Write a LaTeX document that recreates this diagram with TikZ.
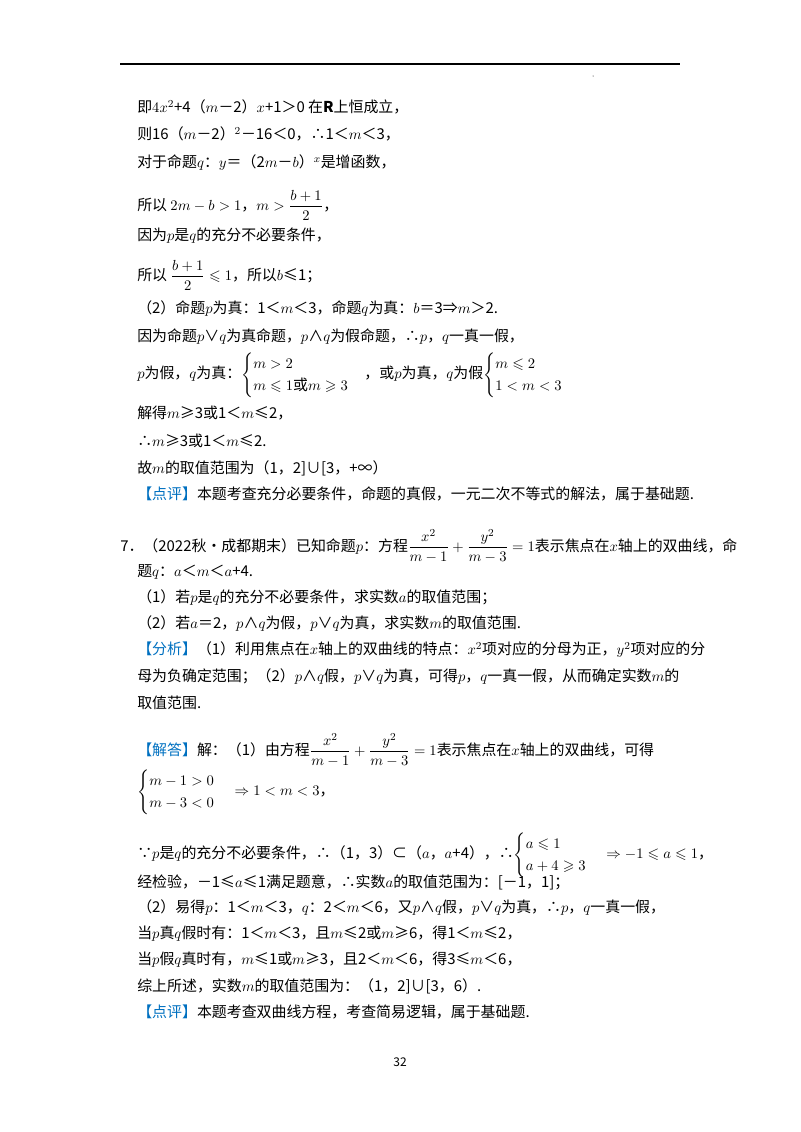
\documentclass[tikz,border=0pt]{standalone}
\usepackage{amsmath,amssymb}
\usepackage{fontspec}
\setmainfont{Noto Sans CJK SC}
\definecolor{tagblue}{RGB}{0,112,192}
\newcommand{\tg}[1]{\textcolor{tagblue}{【#1】}}
\begin{document}
\begin{tikzpicture}[x=0.75pt,y=-0.75pt,
  ln/.style={anchor=west,inner sep=0pt,font=\fontsize{11.2}{14}\selectfont}]
\useasboundingbox (0,0) rectangle (800,1132);
\draw[line width=0.8pt] (120,64) -- (680,64);
\fill (593,76) circle (0.5);
\node[ln] (l1) at (137,107) {即$4x^2$+4（$m$－2）$x$+1＞0 在\textbf{R}上恒成立，};
\node[ln] (l2) at (137,134) {则16（$m$－2）$^2$－16＜0，∴1＜$m$＜3，};
\node[ln] (l3) at (137,163) {对于命题$q$：$y$＝（2$m$－$b$）$^x$是增函数，};
\node[ln] (l4) at (137,205) {所以 $2m-b>1$，$m>\dfrac{b+1}{2}$，};
\node[ln] (l5) at (137,236) {因为$p$是$q$的充分不必要条件，};
\node[ln] (l6) at (137,275) {所以 $\dfrac{b+1}{2}\leqslant 1$，所以$b$≤1；};
\node[ln] (l7) at (137,309) {（2）命题$p$为真：1＜$m$＜3，命题$q$为真：$b$＝3⇒$m$＞2.};
\node[ln] (l8) at (137,337) {因为命题$p$∨$q$为真命题，$p$∧$q$为假命题，∴$p$，$q$一真一假，};
\node[ln] (l9) at (137,375) {$p$为假，$q$为真：$\begin{cases} m>2\\ m\leqslant 1\text{或}m\geqslant 3\end{cases}$，或$p$为真，$q$为假$\begin{cases} m\leqslant 2\\ 1<m<3\end{cases}$};
\node[ln] (l10) at (137,413) {解得$m$≥3或1＜$m$≤2，};
\node[ln] (l11) at (137,441) {∴$m$≥3或1＜$m$≤2.};
\node[ln] (l12) at (137,468) {故$m$的取值范围为（1，2]∪[3，+∞）};
\node[ln] (l13) at (137,494) {\tg{点评}本题考查充分必要条件，命题的真假，一元二次不等式的解法，属于基础题.};
\node[ln] (l14) at (120,546) {7．（2022秋•成都期末）已知命题$p$：方程$\dfrac{x^2}{m-1}+\dfrac{y^2}{m-3}=1$表示焦点在$x$轴上的双曲线，命};
\node[ln] (l15) at (137,572) {题$q$：$a$＜$m$＜$a$+4.};
\node[ln] (l16) at (137,598) {（1）若$p$是$q$的充分不必要条件，求实数$a$的取值范围；};
\node[ln] (l17) at (137,624) {（2）若$a$＝2，$p$∧$q$为假，$p$∨$q$为真，求实数$m$的取值范围.};
\node[ln] (l18) at (137,650) {\tg{分析}（1）利用焦点在$x$轴上的双曲线的特点：$x^2$项对应的分母为正，$y^2$项对应的分};
\node[ln] (l19) at (137,677) {母为负确定范围；（2）$p$∧$q$假，$p$∨$q$为真，可得$p$，$q$一真一假，从而确定实数$m$的};
\node[ln] (l20) at (137,703) {取值范围.};
\node[ln] (l21) at (137,750) {\tg{解答}解：（1）由方程$\dfrac{x^2}{m-1}+\dfrac{y^2}{m-3}=1$表示焦点在$x$轴上的双曲线，可得};
\node[ln] (l22) at (137,792) {$\begin{cases} m-1>0\\ m-3<0\end{cases}\Rightarrow 1<m<3$，};
\node[ln] (l23) at (137,855) {∵$p$是$q$的充分不必要条件，∴（1，3）⊂（$a$，$a$+4），∴$\begin{cases} a\leqslant 1\\ a+4\geqslant 3\end{cases}\Rightarrow -1\leqslant a\leqslant 1$，};
\node[ln] (l24) at (137,882) {经检验，－1≤$a$≤1满足题意，∴实数$a$的取值范围为：[－1，1]；};
\node[ln] (l25) at (137,908) {（2）易得$p$：1＜$m$＜3，$q$：2＜$m$＜6，又$p$∧$q$假，$p$∨$q$为真，∴$p$，$q$一真一假，};
\node[ln] (l26) at (137,934) {当$p$真$q$假时有：1＜$m$＜3，且$m$≤2或$m$≥6，得1＜$m$≤2，};
\node[ln] (l27) at (137,960) {当$p$假$q$真时有，$m$≤1或$m$≥3，且2＜$m$＜6，得3≤$m$＜6，};
\node[ln] (l28) at (137,986) {综上所述，实数$m$的取值范围为：（1，2]∪[3，6）.};
\node[ln] (l29) at (137,1012) {\tg{点评}本题考查双曲线方程，考查简易逻辑，属于基础题.};
\node[font=\fontsize{9}{11}\selectfont,inner sep=0pt] (pg) at (400,1062) {32};
\end{tikzpicture}
\end{document}
